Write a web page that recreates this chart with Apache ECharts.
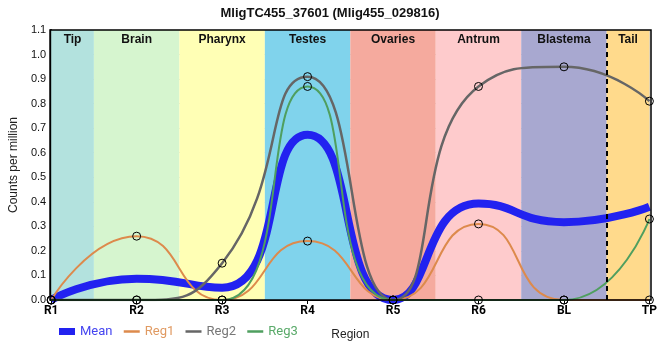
<!DOCTYPE html>
<html><head><meta charset="utf-8">
<script src="https://cdn.jsdelivr.net/npm/echarts@6/dist/echarts.min.js"></script>
<style>html,body{margin:0;padding:0;background:#fff}#c{width:660px;height:360px}</style>
</head><body><div id="c"></div>
<script>
const categories = ['R1','R2','R3','R4','R5','R6','BL','TP'];
const meanVals = [0, 0.087, 0.05, 0.673, 0, 0.393, 0.317, 0.38];
const reg1Vals = [0, 0.26, 0, 0.24, 0, 0.31, 0, 0];
const reg2Vals = [0, 0, 0.15, 0.91, 0, 0.87, 0.95, 0.81];
const reg3Vals = [0, 0, 0, 0.87, 0, 0, 0, 0.33];
const regionNames = ['Tip','Brain','Pharynx','Testes','Ovaries','Antrum','Blastema','Tail'];
const regionStarts = [0, 0.5, 1.5, 2.5, 3.5, 4.5, 5.5, 6.5];
const regionEnds = [0.5, 1.5, 2.5, 3.5, 4.5, 5.5, 6.5, 7];
const regionColors = ['#b3e2de','#d6f5cf','#ffffb5','#80d3ec','#f5aa9e','#fecbcc','#a8a8d0','#ffda8c'];
const yTicks = [0, 1.1, 0.1];

const pairs = v => v.map((y, i) => [i, y]);
const chart = echarts.init(document.getElementById('c'));
const lineSeries = (name, vals, color, width, markers) => ({
  name, type: 'line', data: pairs(vals), smooth: 0.55, z: 3,
  showSymbol: markers, symbol: 'circle', symbolSize: 8,
  itemStyle: { color: 'rgba(255,255,255,0)', borderColor: '#000', borderWidth: 1 },
  lineStyle: { color, width }, color,
  emphasis: { disabled: true }
});
const legItem = (name, color, textColor) => ({
  name, textStyle: { color: textColor },
  itemStyle: { color: 'rgba(0,0,0,0)', borderWidth: 0, opacity: 0 },
  lineStyle: { color, width: 2.5 }
});
chart.setOption({
  animation: false,
  title: { text: 'MligTC455_37601 (Mlig455_029816)', left: 'center', top: 2,
    textStyle: { fontSize: 13, fontWeight: 'bold', color: '#111', fontFamily: 'Arial, Liberation Sans' } },
  grid: { left: 50, right: 9, top: 30, bottom: 60 },
  legend: {
    left: 54, top: 320, itemWidth: 16, itemHeight: 7, itemGap: 10,
    textStyle: { fontSize: 13, fontFamily: 'Roboto' },
    data: [
      { name: 'Mean', icon: 'rect', textStyle: { color: '#4545f0' }, itemStyle: { color: '#2222f0', borderWidth: 0 } },
      legItem('Reg1', '#dd8a4c', '#e09a62'),
      legItem('Reg2', '#666666', '#777777'),
      legItem('Reg3', '#4f9f5f', '#5aaa6a')
    ]
  },
  xAxis: {
    type: 'value', min: 0, max: 7, interval: 1,
    name: 'Region', nameLocation: 'middle', nameGap: 29,
    nameTextStyle: { fontSize: 12, color: '#222', fontFamily: 'Arial, Liberation Sans' },
    axisLine: { lineStyle: { color: '#000', width: 2 } },
    axisTick: { show: true, length: 4, lineStyle: { color: '#000' } },
    axisLabel: { formatter: v => categories[v] || '', fontSize: 12, color: '#000', fontWeight: 'bold', margin: 5, fontFamily: 'Roboto' },
    splitLine: { show: true, lineStyle: { color: '#cfcfcf' } }
  },
  yAxis: {
    type: 'value', min: yTicks[0], max: yTicks[1], interval: yTicks[2],
    name: 'Counts per million', nameLocation: 'middle', nameGap: 28,
    nameTextStyle: { fontSize: 12, color: '#222', fontFamily: 'Arial, Liberation Sans' },
    axisLine: { show: true, lineStyle: { color: '#000', width: 2 } },
    axisTick: { show: false },
    axisLabel: { formatter: v => v.toFixed(1), fontSize: 11, color: '#111', margin: 5, fontFamily: 'Arial, Liberation Sans' },
    splitLine: { show: true, lineStyle: { color: '#cfcfcf' } }
  },
  series: [
    {
      name: 'bands', type: 'line', data: [], z: -1, silent: true,
      markArea: {
        silent: true,
        label: { position: 'insideTop', fontSize: 12, fontWeight: 'bold', color: '#111', distance: 4, fontFamily: 'Arial, Liberation Sans' },
        data: regionNames.map((n, i) => [
          { name: n, xAxis: regionStarts[i], itemStyle: { color: regionColors[i] } },
          { xAxis: regionEnds[i] }
        ])
      }
    },
    {
      name: 'frame', type: 'line', data: [], z: 4, silent: true,
      markLine: {
        silent: true, symbol: 'none', label: { show: false },
        lineStyle: { color: '#000', type: [5, 4], width: 2 },
        data: [{ xAxis: 6.5 }]
      }
    },
    lineSeries('Mean', meanVals, '#2222f0', 8, false),
    lineSeries('Reg1', reg1Vals, '#dd8a4c', 2, true),
    lineSeries('Reg2', reg2Vals, '#666666', 2.5, true),
    lineSeries('Reg3', reg3Vals, '#4f9f5f', 2, true)
  ],
  graphic: [{
    type: 'rect', shape: { x: 50, y: 30, width: 601, height: 270 },
    style: { fill: 'none', stroke: '#000', lineWidth: 1.5 }, z: 10, silent: true
  }]
});
</script></body></html>
